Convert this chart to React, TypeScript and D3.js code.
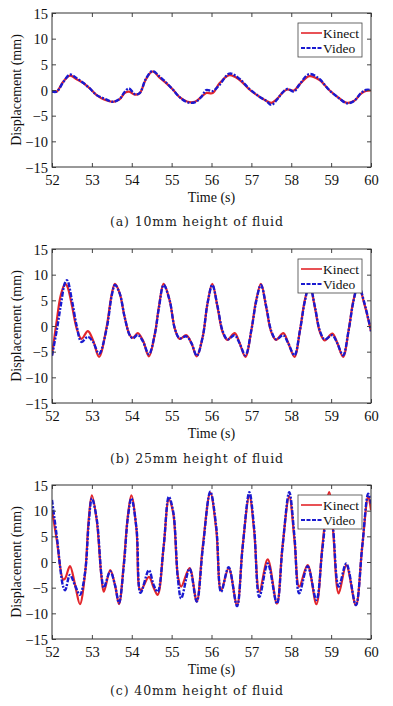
import { useRef, useEffect } from "react";
import * as d3 from "d3";

// (a) 10mm height of fluid
const tA = [52.0, 52.12, 52.28, 52.45, 52.62, 52.78, 52.95, 53.12, 53.32, 53.53, 53.7, 53.82, 53.93, 54.08, 54.2, 54.35, 54.52, 54.7, 54.87, 55.03, 55.2, 55.4, 55.58, 55.75, 55.87, 56.03, 56.2, 56.45, 56.7, 56.95, 57.2, 57.37, 57.5, 57.66, 57.78, 57.9, 58.07, 58.2, 58.45, 58.7, 58.95, 59.2, 59.4, 59.58, 59.75, 59.87, 60.0];
const kinectA = [-0.3, -0.3, 1.6, 2.8, 2.1, 1.4, 0.3, -1.0, -1.9, -2.3, -1.8, -0.6, -0.3, -0.9, -0.6, 2.0, 3.6, 2.4, 1.3, 0.1, -1.4, -2.3, -2.3, -1.3, -0.6, -0.6, 1.3, 2.9, 2.0, 0.1, -1.3, -2.1, -2.5, -1.6, -0.5, 0.1, -0.1, 1.0, 2.7, 2.0, 0.0, -1.6, -2.5, -2.1, -0.7, -0.2, -0.1];
const videoA = [-0.3, -0.3, 1.5, 3.0, 2.3, 1.4, 0.3, -1.0, -1.7, -2.3, -1.7, -0.4, 0.3, -0.8, -0.6, 2.1, 3.7, 2.6, 1.4, 0.1, -1.4, -2.4, -2.4, -1.3, 0.0, -0.2, 1.0, 3.2, 2.2, 0.2, -1.3, -2.1, -2.9, -1.7, -0.5, 0.2, -0.3, 1.0, 3.1, 2.2, 0.0, -1.6, -2.6, -2.1, -0.6, 0.0, 0.0];

// (b) 25mm height of fluid
const tB = [52.0, 52.12, 52.22, 52.33, 52.38, 52.5, 52.62, 52.74, 52.9, 53.03, 53.18, 53.37, 53.5, 53.58, 53.7, 53.82, 53.95, 54.03, 54.15, 54.28, 54.43, 54.58, 54.68, 54.8, 54.95, 55.08, 55.2, 55.37, 55.5, 55.63, 55.78, 55.9, 56.02, 56.15, 56.28, 56.4, 56.58, 56.7, 56.85, 57.0, 57.12, 57.24, 57.37, 57.5, 57.62, 57.8, 57.92, 58.08, 58.22, 58.34, 58.46, 58.59, 58.72, 58.84, 59.03, 59.15, 59.3, 59.44, 59.56, 59.68, 59.83, 60.0];
const kinectB = [-5.7, 1.1, 6.0, 8.2, 7.8, 4.0, -0.5, -2.5, -1.0, -2.8, -6.0, -0.2, 6.3, 8.2, 6.3, 1.8, -1.8, -2.3, -1.4, -2.8, -5.9, -1.5, 3.7, 8.2, 5.0, -0.5, -2.5, -1.8, -3.4, -5.9, -2.1, 4.4, 8.2, 3.7, -1.2, -2.7, -1.4, -3.2, -6.0, -0.8, 5.0, 8.2, 3.7, -1.2, -2.7, -1.4, -3.2, -6.0, -0.8, 5.0, 8.2, 3.7, -1.2, -2.8, -1.5, -3.2, -6.0, -0.8, 5.0, 8.0, 4.4, -1.0];
const videoB = [-5.8, -0.8, 4.0, 8.5, 8.9, 5.0, 0.0, -3.1, -2.1, -3.1, -5.4, -0.5, 6.0, 8.0, 6.3, 1.8, -1.8, -2.4, -1.7, -3.0, -5.5, -1.5, 3.5, 8.0, 5.0, -0.5, -2.4, -2.0, -3.4, -5.8, -2.1, 4.4, 8.0, 3.9, -1.0, -2.6, -1.8, -3.3, -5.7, -0.8, 4.8, 8.0, 3.9, -1.0, -2.6, -1.8, -3.3, -5.7, -0.8, 4.8, 8.0, 3.9, -1.0, -2.6, -1.8, -3.3, -5.7, -0.8, 4.8, 8.0, 4.6, -1.0];

// (c) 40mm height of fluid
const tC = [52.0, 52.12, 52.28, 52.33, 52.45, 52.58, 52.7, 52.83, 52.92, 53.0, 53.12, 53.24, 53.3, 53.46, 53.58, 53.68, 53.8, 53.9, 53.99, 54.12, 54.22, 54.43, 54.55, 54.65, 54.8, 54.93, 55.04, 55.16, 55.24, 55.45, 55.63, 55.78, 55.97, 56.12, 56.24, 56.43, 56.64, 56.78, 56.95, 57.07, 57.2, 57.41, 57.64, 57.78, 57.95, 58.08, 58.2, 58.41, 58.63, 58.78, 58.95, 59.05, 59.19, 59.38, 59.62, 59.78, 59.93, 60.0];
const kinectC = [10.1, 4.3, -3.4, -3.2, -0.8, -4.5, -8.2, -2.2, 8.2, 13.0, 8.2, -2.9, -5.8, -1.6, -4.5, -8.2, -0.3, 8.8, 13.0, 6.2, -5.5, -2.9, -5.0, -6.4, 3.0, 12.2, 9.5, -2.9, -4.8, -1.2, -7.7, 3.0, 13.5, 6.2, -5.6, -1.2, -8.4, 3.0, 12.9, 6.0, -5.8, 0.5, -8.1, 3.0, 12.8, 4.3, -4.8, -0.6, -8.2, 3.0, 13.6, 6.0, -6.1, -0.6, -8.4, 3.0, 12.8, 10.1];
const videoC = [12.1, 5.0, -4.8, -5.5, -2.5, -4.6, -6.4, -2.0, 7.5, 12.4, 8.5, -2.5, -5.0, -1.8, -4.5, -8.0, -0.8, 8.5, 12.4, 6.5, -6.0, -1.6, -4.5, -5.8, 3.0, 12.7, 9.8, -3.5, -7.1, -1.3, -7.7, 2.5, 13.7, 6.8, -5.8, -1.0, -8.6, 2.8, 13.6, 6.5, -6.8, -0.3, -8.1, 2.8, 13.6, 5.0, -6.1, -0.8, -7.4, 2.5, 12.8, 6.5, -4.8, -0.3, -8.4, 3.0, 13.3, 11.4];

const xTicks = [52, 53, 54, 55, 56, 57, 58, 59, 60];
const yTicks = [-15, -10, -5, 0, 5, 10, 15];
const captions = ["(a) 10mm height of fluid", "(b) 25mm height of fluid", "(c) 40mm height of fluid"];
const seriesNames = ["Kinect", "Video"];

const W = 393;
const H = 706;
const RED = "#e3262b";
const BLUE = "#1a1ad0";
const FONT = "'Liberation Serif', 'Times New Roman', serif";

const panels = [
  { t: tA, k: kinectA, v: videoA, top: 13, capY: 226 },
  { t: tB, k: kinectB, v: videoB, top: 249, capY: 463 },
  { t: tC, k: kinectC, v: videoC, top: 485, capY: 695 },
];

function App() {
  const svgRef = useRef<SVGSVGElement>(null);

  useEffect(() => {
    const svg = d3.select(svgRef.current);
    svg.selectAll("*").remove();

    const left = 52;
    const right = 371;
    const ph = 154;

    const x = d3.scaleLinear().domain([52, 60]).range([left, right]);

    panels.forEach((p, pi) => {
      const y = d3.scaleLinear().domain([-15, 15]).range([p.top + ph, p.top]);
      const g = svg.append("g");
      const clipId = "clip-" + pi;

      g.append("clipPath").attr("id", clipId)
        .append("rect")
        .attr("x", left).attr("y", p.top)
        .attr("width", right - left).attr("height", ph);

      g.append("rect")
        .attr("x", left).attr("y", p.top)
        .attr("width", right - left).attr("height", ph)
        .attr("fill", "#fff");

      const line = d3.line<number>()
        .x((d, i) => x(p.t[i]))
        .y(d => y(d))
        .curve(d3.curveCatmullRom.alpha(0.5));

      const lines = g.append("g").attr("clip-path", `url(#${clipId})`);
      lines.append("path")
        .datum(p.k)
        .attr("d", line)
        .attr("fill", "none")
        .attr("stroke", RED)
        .attr("stroke-width", 2.2);
      lines.append("path")
        .datum(p.v)
        .attr("d", line)
        .attr("fill", "none")
        .attr("stroke", BLUE)
        .attr("stroke-width", 2.4)
        .attr("stroke-dasharray", "5,1.5,2,1.5");

      // axes, inward ticks on all four sides
      const axL = g.append("g").attr("transform", `translate(${left},0)`)
        .call(d3.axisLeft(y).tickValues(yTicks).tickSize(-4).tickPadding(4).tickFormat(d3.format("d")));
      const axR = g.append("g").attr("transform", `translate(${right},0)`)
        .call(d3.axisRight(y).tickValues(yTicks).tickSize(-4).tickFormat(() => ""));
      const axB = g.append("g").attr("transform", `translate(0,${p.top + ph})`)
        .call(d3.axisBottom(x).tickValues(xTicks).tickSize(-4).tickPadding(6).tickFormat(d3.format("d")));
      const axT = g.append("g").attr("transform", `translate(0,${p.top})`)
        .call(d3.axisTop(x).tickValues(xTicks).tickSize(-4).tickFormat(() => ""));

      [axL, axR, axB, axT].forEach(a => {
        a.select(".domain").remove();
        a.selectAll("line").attr("stroke", "#444");
        a.selectAll("text")
          .attr("font-family", FONT)
          .attr("font-size", 14.5)
          .attr("fill", "#111");
      });
      axL.selectAll("text").attr("dy", "0.35em");
      axB.selectAll("text").attr("dy", "0.8em");

      g.append("rect")
        .attr("x", left).attr("y", p.top)
        .attr("width", right - left).attr("height", ph)
        .attr("fill", "none")
        .attr("stroke", "#333")
        .attr("stroke-width", 1);

      // axis titles
      g.append("text")
        .attr("transform", `translate(21,${p.top + ph / 2}) rotate(-90)`)
        .attr("text-anchor", "middle")
        .attr("font-family", FONT)
        .attr("font-size", 14)
        .attr("fill", "#111")
        .text("Displacement (mm)");

      g.append("text")
        .attr("x", (left + right) / 2)
        .attr("y", p.top + ph + 35)
        .attr("text-anchor", "middle")
        .attr("font-family", FONT)
        .attr("font-size", 14)
        .attr("fill", "#111")
        .text("Time (s)");

      g.append("text")
        .attr("x", 110)
        .attr("y", p.capY)
        .attr("font-family", "'DejaVu Serif', serif")
        .attr("font-size", 12.5)
        .attr("textLength", 173)
        .attr("lengthAdjust", "spacing")
        .attr("fill", "#222")
        .text(captions[pi]);

      // legend
      const lg = g.append("g").attr("transform", `translate(298,${p.top + 10})`);
      lg.append("rect")
        .attr("width", 64).attr("height", 34)
        .attr("fill", "#fff")
        .attr("stroke", "#444")
        .attr("stroke-width", 0.8);
      seriesNames.forEach((name, i) => {
        const ly = 10 + i * 15;
        lg.append("line")
          .attr("x1", 3).attr("x2", 24)
          .attr("y1", ly).attr("y2", ly)
          .attr("stroke", i === 0 ? RED : BLUE)
          .attr("stroke-width", i === 0 ? 1.6 : 2.2)
          .attr("stroke-dasharray", i === 0 ? null : "4,1.5");
        lg.append("text")
          .attr("x", 25).attr("y", ly)
          .attr("dy", "0.35em")
          .attr("font-family", FONT)
          .attr("font-size", 13.5)
          .attr("fill", "#111")
          .text(name);
      });
    });
  }, []);

  return (
    <svg
      ref={svgRef}
      width={W}
      height={H}
      style={{ position: "absolute", left: 0, top: 0, background: "#fff", display: "block" }}
    />
  );
}

export default App;
